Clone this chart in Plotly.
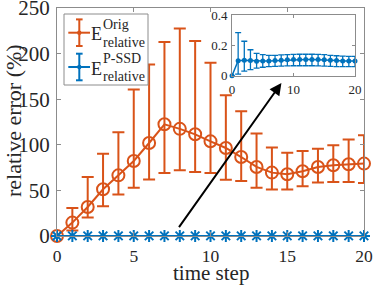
import plotly.graph_objects as go

# ---------------- data ----------------
steps = list(range(21))

orig_mean = [0, 14.7, 31.8, 51.2, 66.5, 82.3, 102, 122.5, 117.5, 111.5, 103.8,
             96.5, 86.6, 75.7, 69.5, 67.7, 71, 75.7, 77.5, 78.6, 79.4]
orig_upper = [0, 30.7, 64.7, 90.3, 113.7, 160.5, 188, 212.7, 227.4, 213.8, 190,
              154.3, 136.7, 112.3, 97, 91.4, 93.2, 95.8, 99.4, 105.7, 110.4]
orig_lower = [0, 6, 20.2, 32.6, 45.4, 53, 62, 69, 72, 70.2, 69,
              61.8, 60.3, 53, 50.9, 50.9, 54.5, 58.6, 59.2, 59.2, 58.1]

pssd_mean = [0, 0.099, 0.103, 0.100, 0.096, 0.097, 0.098, 0.100, 0.103, 0.106, 0.107,
             0.108, 0.108, 0.108, 0.107, 0.105, 0.102, 0.100, 0.098, 0.097, 0.097]
pssd_upper = [0, 0.285, 0.228, 0.172, 0.148, 0.140, 0.135, 0.135, 0.138, 0.140, 0.141,
              0.142, 0.142, 0.142, 0.141, 0.139, 0.135, 0.132, 0.130, 0.128, 0.128]
pssd_lower = [0, 0.010, 0.030, 0.040, 0.050, 0.056, 0.060, 0.062, 0.064, 0.065, 0.066,
              0.066, 0.066, 0.066, 0.065, 0.064, 0.062, 0.060, 0.060, 0.060, 0.060]

main_xticks = [0, 5, 10, 15, 20]
main_yticks = [0, 50, 100, 150, 200, 250]
inset_xticks = [0, 10, 20]
inset_yticks = [0, 0.2, 0.4]

ORANGE = "#D95319"
BLUE = "#0072BD"
FONT = "Liberation Serif"
AXC = "#8c8c8c"
TXT = "#262626"

W, H = 374, 290
ML, MR, MT, MB = 57, 10, 8, 54
PW, PH = W - ML - MR, H - MT - MB


def px(x):
    return (x - ML) / PW


def py(y):
    return (H - MB - y) / PH


def err(mean, up, lo):
    return ([u - m for u, m in zip(up, mean)], [m - l for m, l in zip(mean, lo)])


oe_p, oe_m = err(orig_mean, orig_upper, orig_lower)
pe_p, pe_m = err(pssd_mean, pssd_upper, pssd_lower)

fig = go.Figure()

fig.add_trace(go.Scatter(
    x=steps, y=orig_mean, mode="lines+markers", cliponaxis=False,
    line=dict(color=ORANGE, width=2),
    marker=dict(symbol="circle-open", size=12, color=ORANGE, line=dict(width=2, color=ORANGE)),
    error_y=dict(type="data", symmetric=False, array=oe_p, arrayminus=oe_m,
                 color=ORANGE, thickness=2, width=6),
    showlegend=False))

fig.add_trace(go.Scatter(
    x=steps, y=pssd_mean, mode="lines+markers", cliponaxis=False,
    line=dict(color=BLUE, width=2),
    marker=dict(symbol="asterisk-open", size=10, color=BLUE, line=dict(width=2, color=BLUE)),
    error_y=dict(type="data", symmetric=False, array=pe_p, arrayminus=pe_m,
                 color=BLUE, thickness=1.5, width=4),
    showlegend=False))

# inset
fig.add_trace(go.Scatter(
    x=steps, y=pssd_mean, mode="lines+markers", xaxis="x2", yaxis="y2", cliponaxis=False,
    line=dict(color=BLUE, width=1.5),
    marker=dict(symbol="circle", size=5, color=BLUE),
    error_y=dict(type="data", symmetric=False, array=pe_p, arrayminus=pe_m,
                 color=BLUE, thickness=1.3, width=3),
    showlegend=False))

axis_common = dict(showline=True, linecolor=AXC, linewidth=1, mirror="ticks",
                   ticks="inside", tickcolor=AXC, showgrid=False, zeroline=False,
                   automargin=False, ticklabeloverflow="allow")

ix0, ix1 = px(232), px(355)
iy0, iy1 = py(75.7), py(15.3)

fig.update_layout(
    template="none",
    width=W, height=H, margin=dict(l=ML, r=MR, t=MT, b=MB, autoexpand=False),
    paper_bgcolor="white", plot_bgcolor="white",
    xaxis=dict(range=[0, 20], tickvals=main_xticks, ticklen=4, ticklabelstandoff=4,
               tickfont=dict(family=FONT, size=17.5, color=TXT), **axis_common),
    yaxis=dict(range=[0, 250], tickvals=main_yticks, ticklen=4, ticklabelstandoff=2,
               tickfont=dict(family=FONT, size=21, color=TXT), **axis_common),
    xaxis2=dict(domain=[ix0, ix1], anchor="y2", range=[0, 20], tickvals=inset_xticks,
                ticklen=3, ticklabelstandoff=2,
                tickfont=dict(family=FONT, size=13, color=TXT), **axis_common),
    yaxis2=dict(domain=[iy0, iy1], anchor="x2", range=[0, 0.4], tickvals=inset_yticks,
                ticklen=3, ticklabelstandoff=1,
                tickfont=dict(family=FONT, size=13, color=TXT), **axis_common),
)

shapes = []
annotations = []

# inset background (white)
shapes.append(dict(type="rect", xref="paper", yref="paper", x0=ix0, x1=ix1, y0=iy0, y1=iy1,
                   fillcolor="white", line=dict(width=0), layer="below"))

# legend box
shapes.append(dict(type="rect", xref="paper", yref="paper", x0=px(64), x1=px(148),
                   y0=py(85), y1=py(14), fillcolor="white", line=dict(color=AXC, width=1)))


def legend_entry(yc, color, sup):
    xc = 79.3
    shapes.append(dict(type="line", xref="paper", yref="paper", x0=px(68.3), x1=px(90),
                       y0=py(yc), y1=py(yc), line=dict(color=color, width=2)))
    shapes.append(dict(type="line", xref="paper", yref="paper", x0=px(xc), x1=px(xc),
                       y0=py(yc - 13.3), y1=py(yc + 13.3), line=dict(color=color, width=2)))
    for yy in (yc - 13.3, yc + 13.3):
        shapes.append(dict(type="line", xref="paper", yref="paper", x0=px(xc - 3.3), x1=px(xc + 3.3),
                           y0=py(yy), y1=py(yy), line=dict(color=color, width=2)))
    shapes.append(dict(type="circle", xref="paper", yref="paper", x0=px(xc - 2.2), x1=px(xc + 2.2),
                       y0=py(yc - 2.2), y1=py(yc + 2.2), fillcolor=color, line=dict(color=color, width=0)))
    annotations.append(dict(xref="paper", yref="paper", x=px(90), y=py(yc + 1.5), text="E",
                            showarrow=False, xanchor="left", yanchor="middle", borderpad=0,
                            font=dict(family=FONT, size=18, color=TXT)))
    annotations.append(dict(xref="paper", yref="paper", x=px(102), y=py(yc - 8.5), text=sup,
                            showarrow=False, xanchor="left", yanchor="middle", borderpad=0,
                            font=dict(family=FONT, size=14, color=TXT)))
    annotations.append(dict(xref="paper", yref="paper", x=px(102), y=py(yc + 9.5), text="relative",
                            showarrow=False, xanchor="left", yanchor="middle", borderpad=0,
                            font=dict(family=FONT, size=14, color=TXT)))


legend_entry(32.7, ORANGE, "Orig")
legend_entry(67.0, BLUE, "P-SSD")

# axis titles
annotations.append(dict(xref="paper", yref="paper", x=px(211), y=py(273), text="time step",
                        showarrow=False, xanchor="center", yanchor="middle",
                        font=dict(family=FONT, size=21, color=TXT)))
annotations.append(dict(xref="paper", yref="paper", x=px(13), y=py(121), text="relative error (%)",
                        showarrow=False, xanchor="center", yanchor="middle", textangle=-90,
                        font=dict(family=FONT, size=22, color=TXT)))

# arrow
annotations.append(dict(x=14.62, y=167.8, ax=7.88, ay=8.1, xref="x", yref="y", axref="x", ayref="y",
                        text="", showarrow=True, arrowhead=2, arrowsize=1.2, arrowwidth=2,
                        arrowcolor="black", standoff=0, startstandoff=0))

fig.update_layout(shapes=shapes, annotations=annotations)

fig.write_html("out.html", config={"displayModeBar": False},
               post_script="document.body.style.margin='0';document.body.style.padding='0';")
